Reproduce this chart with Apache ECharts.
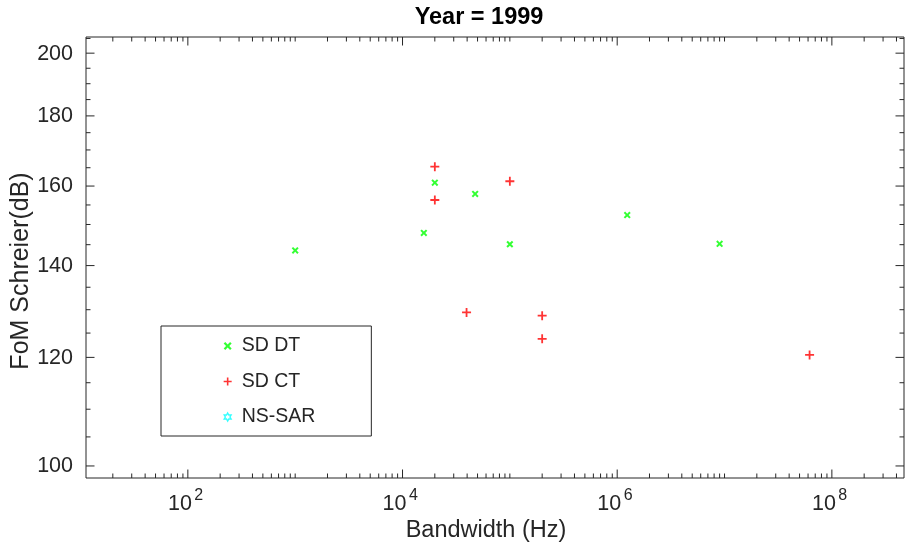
<!DOCTYPE html>
<html>
<head>
<meta charset="utf-8">
<script src="https://cdn.jsdelivr.net/npm/echarts@6/dist/echarts.min.js"></script>
<style>
  html, body { margin: 0; padding: 0; background: #ffffff; }
  #chart { width: 905px; height: 544px; }
</style>
</head>
<body>
<div id="chart"></div>
<script>
// Bandwidth (Hz) and Schreier figure of merit (dB) by converter architecture, 1999
const sdDtBandwidth = [1000, 15800, 20000, 47500, 100000, 1240000, 9000000];
const sdDtFom       = [143.6, 147.9, 160.9, 157.9, 145.1, 152.4, 145.2];

const sdCtBandwidth = [20000, 20000, 100000, 39500, 200000, 200000, 62000000];
const sdCtFom       = [165.3, 156.3, 161.3, 129.4, 128.7, 123.8, 120.5];

const nsSarBandwidth = [];
const nsSarFom       = [];

// Axis limits and labelled ticks
const xRange = [11.25, 4.7e8];
const yRange = [98, 205.5];
const xLabelExponents = [2, 4, 6, 8];
const yLabelValues = [100, 120, 140, 160, 180, 200];

const seriesNames = ['SD DT', 'SD CT', 'NS-SAR'];
const chartTitle = 'Year = 1999';
const xAxisTitle = 'Bandwidth (Hz)';
const yAxisTitle = 'FoM Schreier(dB)';

const FONT = '"Liberation Sans", Arial, Helvetica, sans-serif';
const AXIS_COLOR = '#262626';
const MAJOR_LEN = 8.5;
const MINOR_LEN = 4.5;

// Marker shapes
const PLUS_PATH = 'path://M4,0H6V4H10V6H6V10H4V6H0V4H4Z';
const CROSS_PATH = 'path://M0,2L2,0L5,3L8,0L10,2L7,5L10,8L8,10L5,7L2,10L0,8L3,5Z';
const HEXAGRAM_PATH = 'path://M5,0L6.44,2.5L9.33,2.5L7.89,5L9.33,7.5L6.44,7.5L5,10L3.56,7.5L0.67,7.5L2.11,5L0.67,2.5L3.56,2.5Z';

function pairs(xs, ys) {
  return xs.map((x, i) => [x, ys[i]]);
}

// Tick sets: x has a mark at every k*10^n, labelled at the even decades;
// y has a mark every 5 dB, labelled every 20 dB.
const xTicks = [];
for (let e = 0; e <= 9; e++) {
  for (let k = 1; k <= 9; k++) {
    const v = k * Math.pow(10, e);
    if (v < xRange[0] || v > xRange[1]) continue;
    const labelled = k === 1 && xLabelExponents.indexOf(e) >= 0;
    xTicks.push([v, yRange[0], labelled ? 1 : 0, labelled ? e : -1]);
  }
}
const yTicks = [];
for (let v = 95; v <= 210; v += 5) {
  if (v < yRange[0] || v > yRange[1]) continue;
  const labelled = yLabelValues.indexOf(v) >= 0;
  yTicks.push([xRange[0], v, labelled ? 1 : 0, labelled ? v : -1]);
}

function tickLine(x1, y1, x2, y2) {
  return {
    type: 'line',
    shape: { x1: x1, y1: y1, x2: x2, y2: y2 },
    style: { stroke: AXIS_COLOR, lineWidth: 1 }
  };
}

function textEl(text, x, y, size, align, vAlign) {
  return {
    type: 'text',
    x: x, y: y,
    style: {
      text: text,
      fill: AXIS_COLOR,
      fontSize: size,
      fontFamily: FONT,
      align: align, verticalAlign: vAlign,
      textAlign: align, textVerticalAlign: vAlign
    }
  };
}

function renderXTick(params, api) {
  const v = api.value(0);
  const major = api.value(2) === 1;
  const len = major ? MAJOR_LEN : MINOR_LEN;
  const b = api.coord([v, yRange[0]]);
  const t = api.coord([v, yRange[1]]);
  const children = [
    tickLine(b[0], b[1], b[0], b[1] - len),
    tickLine(t[0], t[1], t[0], t[1] + len)
  ];
  const exp = api.value(3);
  if (exp >= 0) {
    children.push(textEl('10', b[0] + 4, b[1] + 26, 21.5, 'right', 'middle'));
    children.push(textEl(String(exp), b[0] + 6.5, b[1] + 18, 16, 'left', 'middle'));
  }
  return { type: 'group', children: children };
}

function renderYTick(params, api) {
  const v = api.value(1);
  const major = api.value(2) === 1;
  const len = major ? MAJOR_LEN : MINOR_LEN;
  const l = api.coord([xRange[0], v]);
  const r = api.coord([xRange[1], v]);
  const children = [
    tickLine(l[0], l[1], l[0] + len, l[1]),
    tickLine(r[0], r[1], r[0] - len, r[1])
  ];
  const lab = api.value(3);
  if (lab >= 0) {
    children.push(textEl(String(lab), l[0] - 13, l[1] + 0.5, 21.5, 'right', 'middle'));
  }
  return { type: 'group', children: children };
}

const chart = echarts.init(document.getElementById('chart'), null, { renderer: 'canvas' });

const option = {
  animation: false,
  backgroundColor: '#ffffff',
  textStyle: { fontFamily: FONT },
  grid: {
    left: 86, right: 1, top: 37, bottom: 66,
    show: true,
    borderColor: AXIS_COLOR,
    borderWidth: 1,
    backgroundColor: '#ffffff'
  },
  xAxis: {
    type: 'log', logBase: 10,
    min: xRange[0], max: xRange[1],
    axisLine: { show: false },
    axisTick: { show: false },
    axisLabel: { show: false },
    splitLine: { show: false }
  },
  yAxis: {
    type: 'log', logBase: 10,
    min: yRange[0], max: yRange[1],
    axisLine: { show: false },
    axisTick: { show: false },
    axisLabel: { show: false },
    splitLine: { show: false }
  },
  legend: {
    orient: 'vertical',
    left: 161, top: 326,
    padding: [10, 56, 9, 62.5],
    itemGap: 15.5,
    itemWidth: 18, itemHeight: 8,
    borderColor: AXIS_COLOR,
    borderWidth: 1,
    backgroundColor: '#ffffff',
    textStyle: { fontSize: 19.5, color: AXIS_COLOR, fontFamily: FONT },
    data: [
      { name: seriesNames[0], icon: CROSS_PATH, itemStyle: { color: '#00ff00' } },
      { name: seriesNames[1], icon: PLUS_PATH, itemStyle: { color: '#ff0000' } },
      { name: seriesNames[2], icon: HEXAGRAM_PATH,
        itemStyle: { color: 'rgba(0,0,0,0)', borderColor: '#00ffff', borderWidth: 1.4 } }
    ]
  },
  graphic: [
    {
      type: 'text', x: 479, y: 18,
      style: {
        text: chartTitle, fill: '#000000',
        fontSize: 23.5, fontWeight: 'bold', fontFamily: FONT,
        align: 'center', verticalAlign: 'middle',
        textAlign: 'center', textVerticalAlign: 'middle'
      }
    },
    {
      type: 'text', x: 486, y: 531,
      style: {
        text: xAxisTitle, fill: AXIS_COLOR,
        fontSize: 23.5, fontFamily: FONT,
        align: 'center', verticalAlign: 'middle',
        textAlign: 'center', textVerticalAlign: 'middle'
      }
    },
    {
      type: 'text', x: 21, y: 271, rotation: Math.PI / 2,
      style: {
        text: yAxisTitle, fill: AXIS_COLOR,
        fontSize: 25, fontFamily: FONT,
        align: 'center', verticalAlign: 'middle',
        textAlign: 'center', textVerticalAlign: 'middle'
      }
    }
  ],
  series: [
    {
      type: 'custom', name: 'xTicks', silent: true, clip: false, z: 1,
      renderItem: renderXTick, data: xTicks, encode: { x: 0, y: 1 }
    },
    {
      type: 'custom', name: 'yTicks', silent: true, clip: false, z: 1,
      renderItem: renderYTick, data: yTicks, encode: { x: 0, y: 1 }
    },
    {
      type: 'scatter', name: seriesNames[0],
      symbol: CROSS_PATH, symbolSize: 7, symbolKeepAspect: true,
      itemStyle: { color: '#00ff00' },
      data: pairs(sdDtBandwidth, sdDtFom), z: 3
    },
    {
      type: 'scatter', name: seriesNames[1],
      symbol: PLUS_PATH, symbolSize: 9, symbolKeepAspect: true,
      itemStyle: { color: '#ff0000' },
      data: pairs(sdCtBandwidth, sdCtFom), z: 3
    },
    {
      type: 'scatter', name: seriesNames[2],
      symbol: HEXAGRAM_PATH, symbolSize: 8, symbolKeepAspect: true,
      itemStyle: { color: 'rgba(0,0,0,0)', borderColor: '#00ffff', borderWidth: 1.4 },
      data: pairs(nsSarBandwidth, nsSarFom), z: 3
    }
  ]
};

chart.setOption(option);
</script>
</body>
</html>
